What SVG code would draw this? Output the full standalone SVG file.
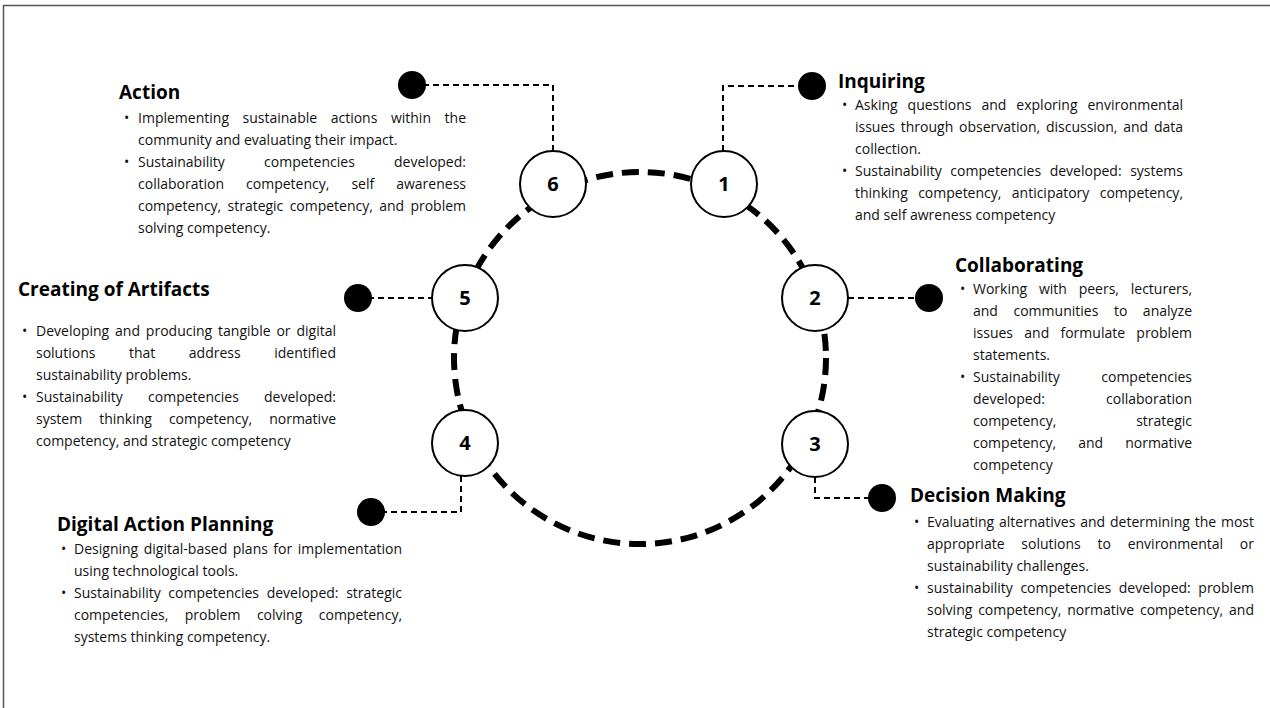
<svg xmlns="http://www.w3.org/2000/svg" width="1270" height="708" viewBox="0 0 1270 708">
  <style>
    .frame { fill: none; stroke: #555; stroke-width: 1.5; }
    .ring { fill: none; stroke: #000; stroke-width: 6; stroke-dasharray: 17 9; }
    .node { fill: #fff; stroke: #000; stroke-width: 2; }
    .num { font-family: "Open Sans", "Liberation Sans", sans-serif; font-weight: 700; font-size: 20px; text-anchor: middle; fill: #000; }
    .conn { fill: none; stroke: #000; stroke-width: 2; stroke-dasharray: 6 4; }
    .dot { fill: #000; }
    .title { font-family: "Open Sans", "Liberation Sans", sans-serif; font-weight: 700; font-size: 19px; fill: #000; }
    .b { font-family: "Open Sans", "Liberation Sans", sans-serif; font-size: 14px; fill: #111; }
    .e { text-anchor: end; }
  </style>

  <rect width="1270" height="708" fill="#fff"/>
  <path class="frame" d="M3.5,708 V5.5 H1270"/>

  <!-- dashed cycle ring -->
  <circle class="ring" cx="640" cy="358" r="186"/>

  <!-- connectors from each stage to its label dot -->
  <g id="connectors">
    <path class="conn" d="M553,151 V85 H412"/>
    <path class="conn" d="M723,151 V86 H812"/>
    <path class="conn" d="M848,298 H929"/>
    <path class="conn" d="M815,477 V498 H882"/>
    <path class="conn" d="M461,476 V512 H371"/>
    <path class="conn" d="M358,298 H432"/>
    <circle class="dot" cx="412" cy="85" r="14"/>
    <circle class="dot" cx="812" cy="86" r="14"/>
    <circle class="dot" cx="929" cy="298" r="14"/>
    <circle class="dot" cx="882" cy="498" r="14"/>
    <circle class="dot" cx="371" cy="512" r="14"/>
    <circle class="dot" cx="358" cy="298" r="14"/>
  </g>

  <g id="node-1"><circle class="node" cx="724" cy="184" r="33"/><text class="num" x="724" y="191">1</text></g>
  <g id="node-2"><circle class="node" cx="815" cy="298" r="33"/><text class="num" x="815" y="305">2</text></g>
  <g id="node-3"><circle class="node" cx="815" cy="444" r="33"/><text class="num" x="815" y="451">3</text></g>
  <g id="node-4"><circle class="node" cx="465" cy="443" r="33"/><text class="num" x="465" y="450">4</text></g>
  <g id="node-5"><circle class="node" cx="465" cy="298" r="33"/><text class="num" x="465" y="305">5</text></g>
  <g id="node-6"><circle class="node" cx="553" cy="184" r="33"/><text class="num" x="553" y="191">6</text></g>

  <!-- Stage 6 -->
  <g id="label-action">
    <text class="title" x="119" y="99">Action</text>
    <text class="b" x="124" y="123">•</text>
    <text class="b" x="138" y="123" textLength="328" lengthAdjust="spacing" word-spacing="9.9">Implementing sustainable actions within the</text>
    <text class="b" x="138" y="145">community and evaluating their impact.</text>
    <text class="b" x="124" y="167">•</text>
    <text class="b" x="138" y="167" textLength="328" lengthAdjust="spacing" word-spacing="35.6">Sustainability competencies developed:</text>
    <text class="b" x="138" y="189" textLength="328" lengthAdjust="spacing" word-spacing="18.4">collaboration competency, self awareness</text>
    <text class="b" x="138" y="211" textLength="328" lengthAdjust="spacing" word-spacing="2.7">competency, strategic competency, and problem</text>
    <text class="b" x="138" y="233">solving competency.</text>
  </g>

  <!-- Stage 1 -->
  <g id="label-inquiring">
    <text class="title" x="838" y="88">Inquiring</text>
    <text class="b" x="842" y="110">•</text>
    <text class="b" x="855" y="110" textLength="328" lengthAdjust="spacing" word-spacing="6.3">Asking questions and exploring environmental</text>
    <text class="b" x="855" y="132" textLength="328" lengthAdjust="spacing" word-spacing="2.1">issues through observation, discussion, and data</text>
    <text class="b" x="855" y="154">collection.</text>
    <text class="b" x="842" y="176">•</text>
    <text class="b" x="855" y="176" textLength="328" lengthAdjust="spacing" word-spacing="4.9">Sustainability competencies developed: systems</text>
    <text class="b" x="855" y="198" textLength="328" lengthAdjust="spacing" word-spacing="6.8">thinking competency, anticipatory competency,</text>
    <text class="b" x="855" y="220">and self awreness competency</text>
  </g>

  <!-- Stage 2 -->
  <g id="label-collaborating">
    <text class="title" x="955" y="272">Collaborating</text>
    <text class="b" x="960" y="294">•</text>
    <text class="b" x="973" y="294" textLength="219" lengthAdjust="spacing" word-spacing="8.2">Working with peers, lecturers,</text>
    <text class="b" x="973" y="316" textLength="219" lengthAdjust="spacing" word-spacing="11.9">and communities to analyze</text>
    <text class="b" x="973" y="338" textLength="219" lengthAdjust="spacing" word-spacing="7.6">issues and formulate problem</text>
    <text class="b" x="973" y="360">statements.</text>
    <text class="b" x="960" y="382">•</text>
    <text class="b" x="973" y="382">Sustainability</text>
    <text class="b e" x="1192" y="382">competencies</text>
    <text class="b" x="973" y="404">developed:</text>
    <text class="b e" x="1192" y="404">collaboration</text>
    <text class="b" x="973" y="426">competency,</text>
    <text class="b e" x="1192" y="426">strategic</text>
    <text class="b" x="973" y="448" textLength="219" lengthAdjust="spacing" word-spacing="18.4">competency, and normative</text>
    <text class="b" x="973" y="470">competency</text>
  </g>

  <!-- Stage 5 -->
  <g id="label-creating">
    <text class="title" x="18" y="296">Creating of Artifacts</text>
    <text class="b" x="22" y="336">•</text>
    <text class="b" x="36" y="336" textLength="300" lengthAdjust="spacing" word-spacing="2.2">Developing and producing tangible or digital</text>
    <text class="b" x="36" y="358" textLength="300" lengthAdjust="spacing" word-spacing="29.9">solutions that address identified</text>
    <text class="b" x="36" y="380">sustainability problems.</text>
    <text class="b" x="22" y="402">•</text>
    <text class="b" x="36" y="402" textLength="300" lengthAdjust="spacing" word-spacing="21.6">Sustainability competencies developed:</text>
    <text class="b" x="36" y="424" textLength="300" lengthAdjust="spacing" word-spacing="13.4">system thinking competency, normative</text>
    <text class="b" x="36" y="446">competency, and strategic competency</text>
  </g>

  <!-- Stage 4 -->
  <g id="label-digital">
    <text class="title" x="57" y="531">Digital Action Planning</text>
    <text class="b" x="61" y="554">•</text>
    <text class="b" x="74" y="554" textLength="328" lengthAdjust="spacing" word-spacing="1.8">Designing digital-based plans for implementation</text>
    <text class="b" x="74" y="576">using technological tools.</text>
    <text class="b" x="61" y="598">•</text>
    <text class="b" x="74" y="598" textLength="328" lengthAdjust="spacing" word-spacing="4">Sustainability competencies developed: strategic</text>
    <text class="b" x="74" y="620" textLength="328" lengthAdjust="spacing" word-spacing="12.9">competencies, problem colving competency,</text>
    <text class="b" x="74" y="642">systems thinking competency.</text>
  </g>

  <!-- Stage 3 -->
  <g id="label-decision">
    <text class="title" x="910" y="502">Decision Making</text>
    <text class="b" x="914" y="527">•</text>
    <text class="b" x="927" y="527" textLength="327" lengthAdjust="spacing" word-spacing="1.2">Evaluating alternatives and determining the most</text>
    <text class="b" x="927" y="549" textLength="327" lengthAdjust="spacing" word-spacing="13.1">appropriate solutions to environmental or</text>
    <text class="b" x="927" y="571">sustainability challenges.</text>
    <text class="b" x="914" y="593">•</text>
    <text class="b" x="927" y="593" textLength="327" lengthAdjust="spacing" word-spacing="3.9">sustainability competencies developed: problem</text>
    <text class="b" x="927" y="615" textLength="327" lengthAdjust="spacing" word-spacing="2.2">solving competency, normative competency, and</text>
    <text class="b" x="927" y="637">strategic competency</text>
  </g>
</svg>
